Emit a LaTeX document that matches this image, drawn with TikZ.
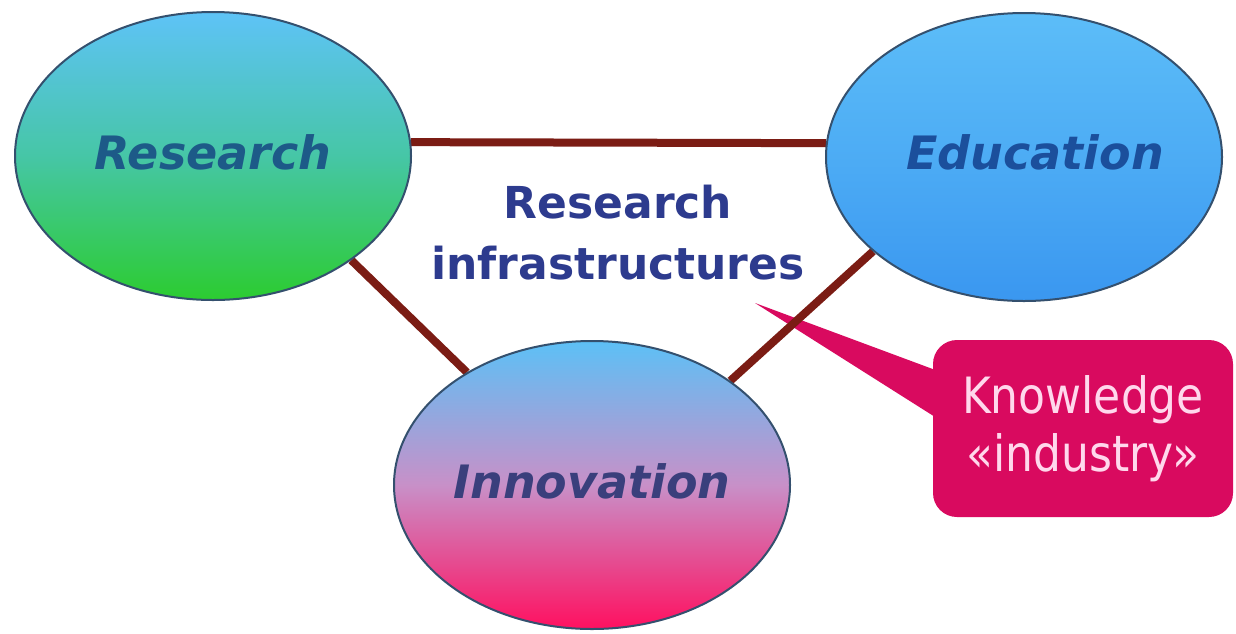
\documentclass[tikz,border=0pt]{standalone}
\usepackage{fontspec}
\setmainfont{DejaVu Sans}
\newfontfamily\calloutfont{DejaVu Sans}[FakeStretch=0.88]
\usetikzlibrary{shapes.geometric,calc}
\definecolor{linkred}{HTML}{7B1C14}
\definecolor{rimblue}{HTML}{34506E}
\definecolor{resTop}{HTML}{5EC3F7}
\definecolor{resMid}{HTML}{46C6A6}
\definecolor{resBot}{HTML}{2CCC30}
\definecolor{eduTop}{HTML}{5CBDF8}
\definecolor{eduBot}{HTML}{3A97F0}
\definecolor{innTop}{HTML}{5CC0F6}
\definecolor{innMid}{HTML}{C890C8}
\definecolor{innBot}{HTML}{FF1060}
\definecolor{resText}{HTML}{1D5A88}
\definecolor{eduText}{HTML}{1B4F9C}
\definecolor{innText}{HTML}{3A3F7C}
\definecolor{midText}{HTML}{2D3B8E}
\definecolor{callFill}{HTML}{D90A5F}
\definecolor{callText}{HTML}{FFD8EC}
\tikzset{
  blob/.style={ellipse, draw=rimblue, line width=2pt, minimum width=396pt,
    minimum height=288pt, inner sep=0pt,
    font=\fontsize{46}{50}\selectfont\bfseries\itshape},
  link/.style={draw=linkred, line width=8pt},
  callbox/.style={fill=callFill, rounded corners=24pt, minimum width=300pt,
    minimum height=177pt, inner sep=0pt, align=center, text=callText,
    font=\calloutfont\fontsize{50}{58}\selectfont},
  midlabel/.style={align=center, text=midText,
    font=\fontsize{44}{61}\selectfont\bfseries}
}
\begin{document}
\begin{tikzpicture}[x=1pt,y=-1pt]
\useasboundingbox[fill=white] (0,0) rectangle (1236,633);
% callout
\node[callbox] (K) at (1083,428.5) {Knowledge\\«industry»};
\coordinate (tip) at (755,303);
\fill[callFill] ($(K.north west)+(2,30)$) -- (tip) -- ($(K.north west)+(2,77)$) -- cycle;
% ellipses (placed first so connectors can reference them, drawn afterwards)
\path node[blob, draw=none] (R) at (213,156) {}
      node[blob, draw=none] (E) at (1024,157) {}
      node[blob, draw=none] (I) at (592,485) {};
% connectors
\draw[link] (R.4) -- (E.176);
\draw[link] (R.-37) -- (I.138);
\draw[link] (E.212) -- (I.37);
% ellipses on top
\node[blob, top color=resTop, bottom color=resBot, middle color=resMid, text=resText] (Rf) at (R.center) {\raisebox{8pt}{Research}};
\node[blob, top color=eduTop, bottom color=eduBot, middle color=eduTop!55!eduBot, text=eduText] (Ef) at (E.center) {\hspace{22pt}\raisebox{9pt}{Education}};
\node[blob, top color=innTop, bottom color=innBot, middle color=innMid, text=innText] (If) at (I.center) {\raisebox{7pt}{Innovation}};
% central label
\node[midlabel] (M) at (618,233) {Research\\infrastructures};
\end{tikzpicture}
\end{document}
